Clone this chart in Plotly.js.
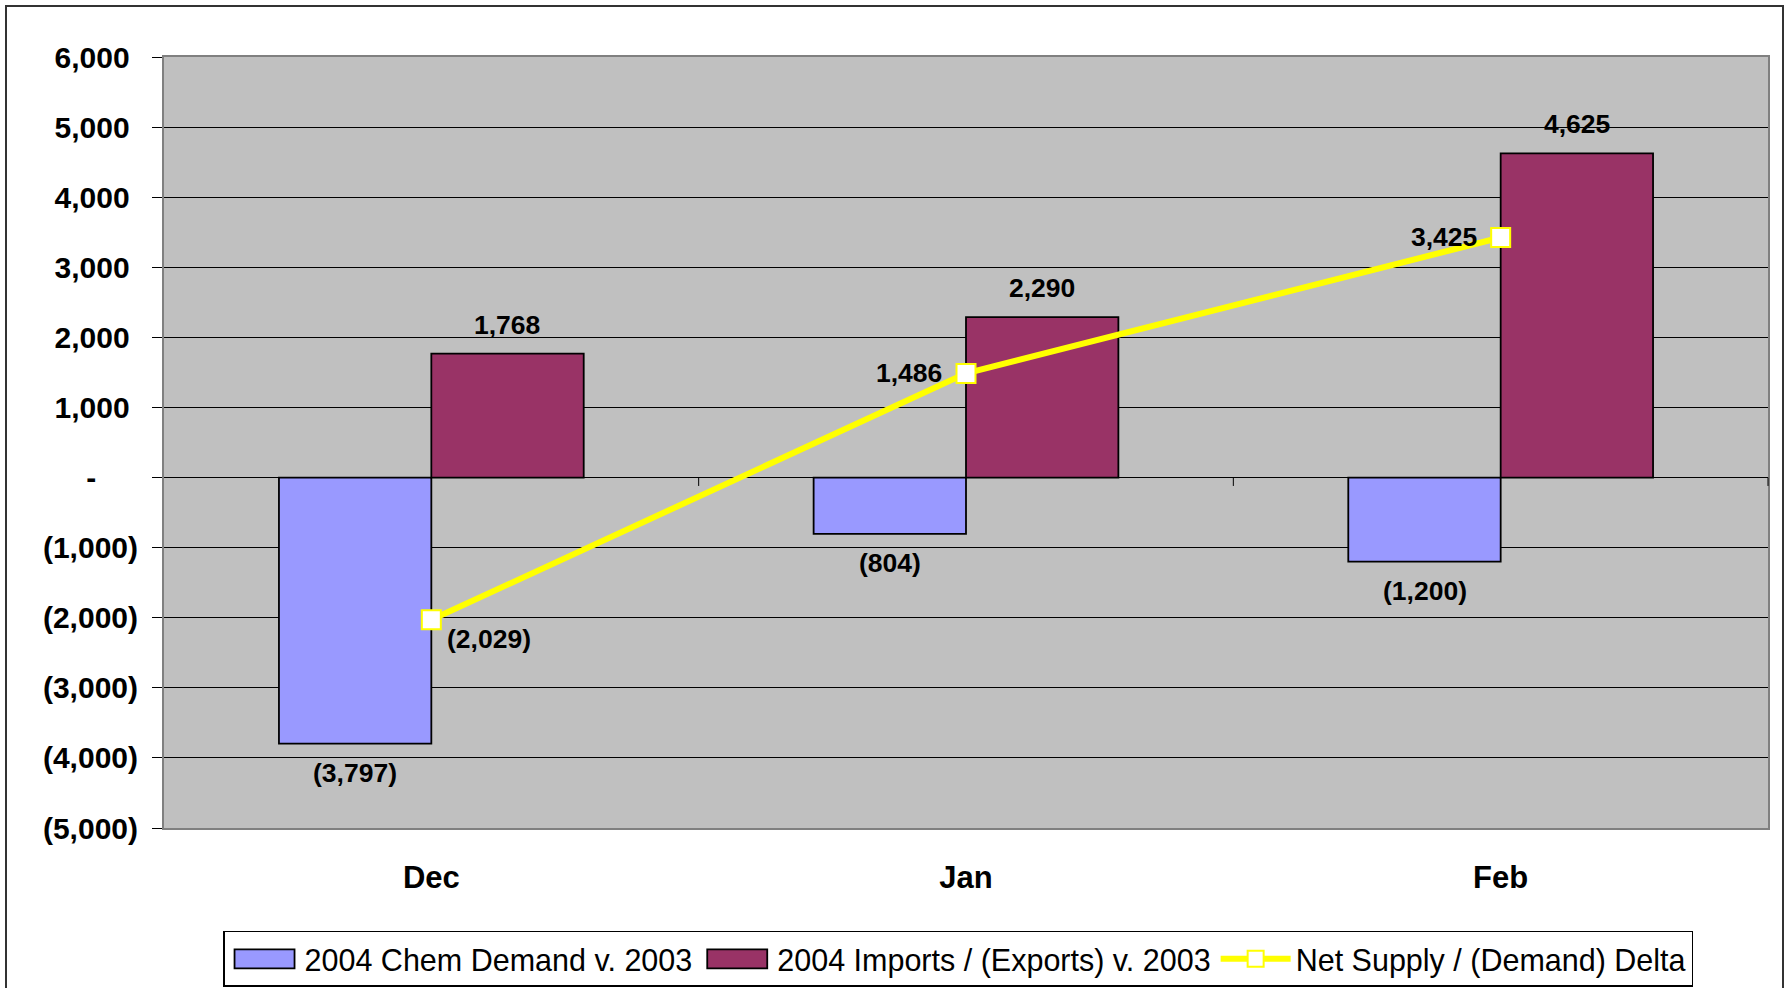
<!DOCTYPE html>
<html>
<head>
<meta charset="utf-8">
<script src="https://cdn.plot.ly/plotly-3.0.1.min.js"></script>
<style>
  html, body { margin: 0; padding: 0; background: #fff; }
  #wrap { position: relative; width: 1790px; height: 988px; }
  #chart { width: 1790px; height: 988px; }
  #frame { position: absolute; left: 5px; top: 5px; width: 1779px; height: 983px;
           border: 2px solid #333; border-bottom: none; box-sizing: border-box; pointer-events: none; }
</style>
</head>
<body>
<div id="wrap"><div id="chart"></div><div id="frame"></div></div>
<script>
const categories = ["Dec", "Jan", "Feb"];
const chemDemand = [-3797, -804, -1200];
const importsExports = [1768, 2290, 4625];
const netSupply = [-2029, 1486, 3425];
const seriesNames = ["2004 Chem Demand v. 2003", "2004 Imports / (Exports) v. 2003", "Net Supply / (Demand) Delta"];
const yTickVals = [6000, 5000, 4000, 3000, 2000, 1000, 0, -1000, -2000, -3000, -4000, -5000];
const yTickText = ["6,000\u00a0", "5,000\u00a0", "4,000\u00a0", "3,000\u00a0", "2,000\u00a0", "1,000\u00a0", "-\u2007\u2007\u00a0",
                   "(1,000)", "(2,000)", "(3,000)", "(4,000)", "(5,000)"];

function fmt(v) {
  const s = Math.abs(v).toLocaleString("en-US");
  return v < 0 ? "(" + s + ")" : s;
}

const FONT = "'Liberation Sans', Arial, sans-serif";
const labelFont = { family: FONT, size: 26.5, color: "#000", weight: "bold" };

const traces = [
  {
    type: "bar", name: seriesNames[0], x: categories, y: chemDemand,
    marker: { color: "#9999FF", line: { color: "#000", width: 1.8 } },
    hoverinfo: "skip"
  },
  {
    type: "bar", name: seriesNames[1], x: categories, y: importsExports,
    marker: { color: "#993366", line: { color: "#000", width: 1.8 } },
    hoverinfo: "skip"
  },
  {
    type: "scatter", mode: "lines+markers", name: seriesNames[2], x: categories, y: netSupply,
    line: { color: "#FFFF00", width: 6 },
    marker: { symbol: "square", size: 19, color: "#FFFFFF", line: { color: "#FFFF00", width: 2 } },
    cliponaxis: false, hoverinfo: "skip"
  }
];

// data labels as annotations anchored at the data values
const annotations = [];
const BAR_HALF = 76; // half bar width in px (styling)
function barLabels(vals, side) {
  vals.forEach((v, i) => {
    annotations.push({
      x: categories[i], y: v, xref: "x", yref: "y", text: fmt(v), showarrow: false,
      xshift: side * BAR_HALF, yshift: v >= 0 ? 29 : -29, yanchor: "middle", xanchor: "center",
      font: labelFont
    });
  });
}
barLabels(chemDemand, -1);
barLabels(importsExports, 1);
netSupply.forEach((v, i) => {
  const right = v < 0;
  annotations.push({
    x: categories[i], y: v, xref: "x", yref: "y", text: fmt(v), showarrow: false,
    xanchor: right ? "left" : "right", xshift: right ? 14 : -22,
    yanchor: "middle", yshift: right ? -19 : 0, font: labelFont
  });
});

const shapes = [0.5, 1.5].map(x => ({
  type: "line", xref: "x", yref: "y", x0: x, x1: x, y0: 0, y1: -120,
  line: { color: "#000", width: 1 }
}));
shapes.push({ type: "line", xref: "paper", yref: "y", x0: 1, x1: 1, y0: 0, y1: -120, line: { color: "#000", width: 1 } });

const layout = {
  width: 1790, height: 988,
  margin: { l: 164, r: 22, t: 57, b: 160 },
  paper_bgcolor: "#FFFFFF", plot_bgcolor: "#C0C0C0",
  font: { family: FONT, color: "#000" },
  showlegend: true,
  barmode: "group", bargap: 0.43, bargroupgap: 0,
  xaxis: {
    type: "category", range: [-0.5, 2.5],
    showline: true, mirror: true, linecolor: "#808080", linewidth: 2,
    ticks: "", showgrid: false, zeroline: false,
    tickfont: { family: FONT, size: 31, weight: "bold", color: "#000" },
    ticklabelstandoff: 21, fixedrange: true
  },
  yaxis: {
    range: [-5000, 6000], tickmode: "array", tickvals: yTickVals, ticktext: yTickText,
    showline: true, mirror: true, linecolor: "#808080", linewidth: 2,
    ticks: "outside", ticklen: 10, tickcolor: "#000", tickwidth: 1,
    showgrid: true, gridcolor: "#000", gridwidth: 1,
    zeroline: true, zerolinecolor: "#000", zerolinewidth: 1.5,
    tickfont: { family: FONT, size: 30, weight: "bold", color: "#000" },
    ticklabelstandoff: 8, fixedrange: true
  },
  legend: {
    orientation: "h", xref: "container", yref: "container",
    x: 0.1246, y: 0.0577, xanchor: "left", yanchor: "top",
    bgcolor: "#FFFFFF", bordercolor: "#000", borderwidth: 1.5,
    font: { family: FONT, size: 30.5, color: "#000" },
    itemwidth: 70, tracegroupgap: 0, traceorder: "normal"
  },
  annotations: annotations,
  shapes: shapes
};

Plotly.newPlot("chart", traces, layout, { staticPlot: true, displayModeBar: false }).then(gd => {
  // enlarge legend symbols to resemble the original legend keys
  const items = gd.querySelectorAll(".legend .traces");
  items.forEach((item, idx) => {
    const pts = item.querySelector(".legendpoints");
    if (!pts) return;
    if (idx < 2) {
      pts.querySelectorAll("path").forEach(p => {
        const bb = p.getBBox();
        const cx = bb.x + bb.width / 2, cy = bb.y + bb.height / 2;
        p.setAttribute("d", `M${cx - 30},${cy - 9.5}h60v19h-60Z`);
        p.style.strokeWidth = "1.8px";
        p.style.stroke = "#000";
      });
    } else {
      pts.querySelectorAll("path.js-line").forEach(p => {
        const bb = p.getBBox();
        const cx = bb.x + bb.width / 2, cy = bb.y + bb.height / 2;
        p.setAttribute("d", `M${cx - 33},${cy}h66`);
      });
    }
  });
});
</script>
</body>
</html>
